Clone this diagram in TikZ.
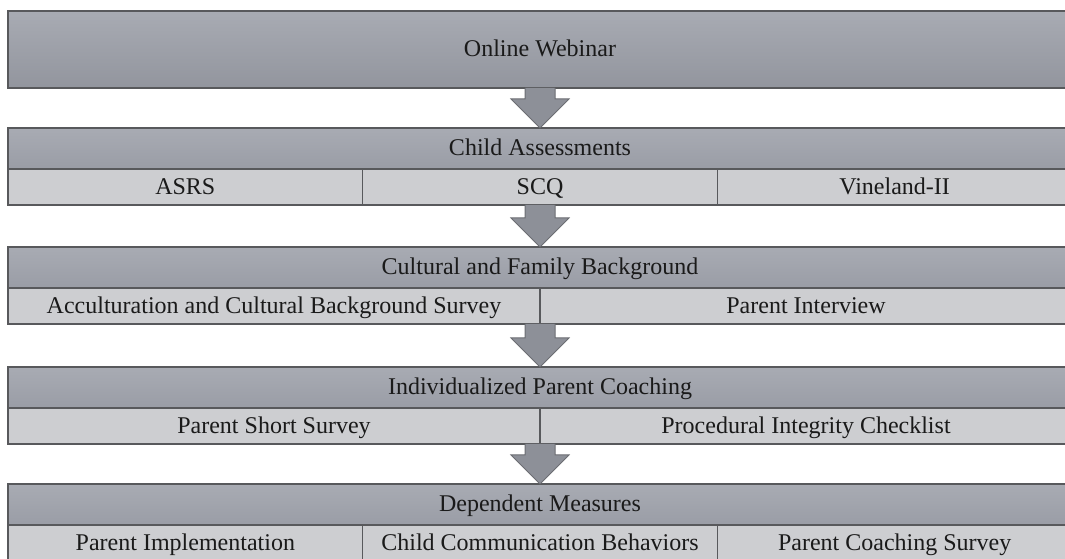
\documentclass[tikz,border=0pt]{standalone}
\usepackage{fontspec}
\setmainfont{Liberation Serif}
\usepackage{tikz}
\usetikzlibrary{positioning}
\usetikzlibrary{calc}

\definecolor{hdtop}{HTML}{A8ABB3}
\definecolor{hdbot}{HTML}{9A9DA6}
\definecolor{cellgray}{HTML}{CDCED1}
\definecolor{edgegray}{HTML}{58595C}
\definecolor{arrgray}{HTML}{8D9098}
\definecolor{arredge}{HTML}{6B6D72}
\definecolor{ink}{HTML}{1A1A1A}

\newcommand{\lbl}{\fontsize{24}{28}\selectfont\color{ink}}

% block arrow from the bottom of one stage to the top of the next
\newcommand{\stagearrow}[2]{%
  \draw[blockarr] ($(#2.north |- #1.south)+(-15,0)$) -- ($(#2.north)+(-15,29)$)
    -- ($(#2.north)+(-29,29)$) -- (#2.north) -- ($(#2.north)+(29,29)$)
    -- ($(#2.north)+(15,29)$) -- ($(#2.north |- #1.south)+(15,0)$);
}

\begin{document}
\begin{tikzpicture}[x=1pt,y=1pt]
  \tikzset{
    hdr/.style={draw=edgegray, line width=1.5pt, top color=hdtop, bottom color=hdbot,
      minimum width=1064pt, minimum height=41pt, inner sep=0pt, outer sep=0pt,
      anchor=north west, text height=17pt, text depth=2pt, font=\lbl},
    cell/.style={draw=edgegray, line width=1.5pt, fill=cellgray,
      minimum height=36pt, inner sep=0pt, outer sep=0pt,
      text height=17pt, text depth=2pt, font=\lbl},
    third/.style={cell, minimum width=354.67pt},
    half/.style={cell, minimum width=532pt},
    blockarr/.style={draw=arredge, line width=1pt, fill=arrgray}
  }
  \useasboundingbox (0,0) rectangle (1065,559);
  \clip (0,0) rectangle (1065,559);

  % webinar
  \node[hdr, minimum height=77pt, top color=hdtop, bottom color=hdbot!95!black] (web) at (8,548) {Online Webinar};

  % child assessments
  \node[hdr] (child) at (8,431) {Child Assessments};
  \node[third, anchor=north west] (asrs) at (child.south west) {ASRS};
  \node[third, right=0pt of asrs] (scq) {SCQ};
  \node[third, right=0pt of scq] (vine) {Vineland-II};

  % cultural and family background
  \node[hdr] (cult) at (8,312) {Cultural and Family Background};
  \node[half, anchor=north west] (accult) at (cult.south west) {Acculturation and Cultural Background Survey};
  \node[half, right=0pt of accult] (pint) {Parent Interview};

  % coaching
  \node[hdr] (coach) at (8,192) {Individualized Parent Coaching};
  \node[half, anchor=north west] (pss) at (coach.south west) {Parent Short Survey};
  \node[half, right=0pt of pss] (pic) {Procedural Integrity Checklist};

  % dependent measures
  \node[hdr] (dep) at (8,75) {Dependent Measures};
  \node[third, anchor=north west] (pimp) at (dep.south west) {Parent Implementation};
  \node[third, right=0pt of pimp] (ccb) {Child Communication Behaviors};
  \node[third, right=0pt of ccb] (pcs) {Parent Coaching Survey};

  \stagearrow{web}{child}
  \stagearrow{scq}{cult}
  \stagearrow{accult}{coach}
  \stagearrow{pss}{dep}
\end{tikzpicture}
\end{document}
